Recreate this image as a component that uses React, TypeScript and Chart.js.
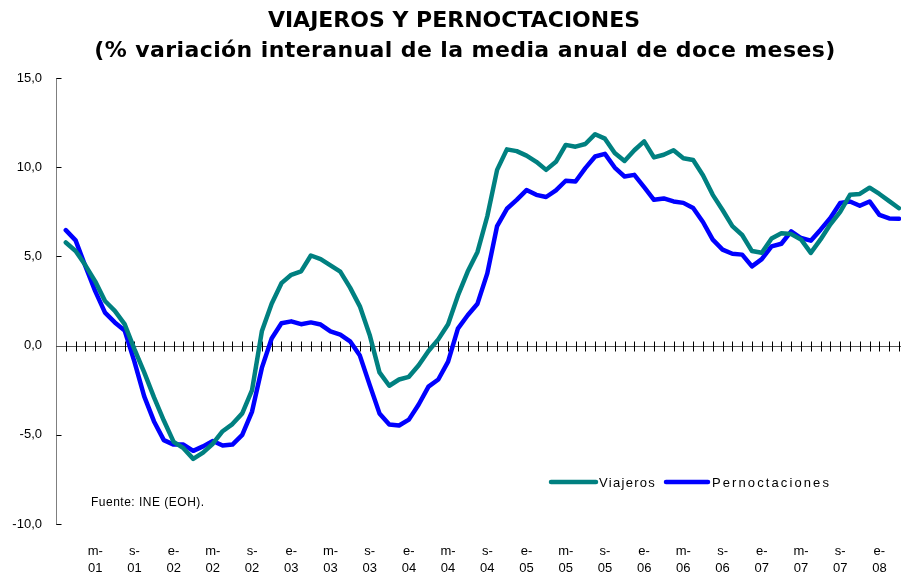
import React, { useEffect, useRef } from "react";
import { Chart, registerables } from "chart.js";

Chart.register(...registerables);

// Month initials (Spanish) and years for the category axis: Jan 2001 .. Mar 2008
const monthInitials = ["e", "f", "m", "a", "m", "j", "j", "a", "s", "o", "n", "d"];
const years = ["01", "02", "03", "04", "05", "06", "07", "08"];
const categories: string[] = [];
years.forEach((yy, yi) => {
  monthInitials.forEach((mm, mi) => {
    if (yi === years.length - 1 && mi > 2) return;
    categories.push(mm + "-" + yy);
  });
});

// % variación interanual de la media anual de doce meses (Feb 2001 .. Mar 2008)
const viajeros: (number | null)[] = [
  null,
  5.78, 5.3, 4.5, 3.6, 2.5, 1.95, 1.2, -0.2, -1.5, -2.9, -4.2,
  -5.4, -5.75, -6.35, -6.0, -5.5, -4.8, -4.4, -3.8, -2.5, 0.8, 2.35, 3.5,
  3.97, 4.16, 5.05, 4.85, 4.5, 4.15, 3.25, 2.2, 0.6, -1.5, -2.25, -1.9,
  -1.75, -1.1, -0.3, 0.35, 1.2, 2.8, 4.15, 5.25, 7.25, 9.85, 11.0, 10.9,
  10.65, 10.3, 9.85, 10.3, 11.25, 11.15, 11.3, 11.85, 11.6, 10.8, 10.35, 10.95,
  11.45, 10.55, 10.7, 10.95, 10.5, 10.4, 9.55, 8.45, 7.6, 6.7, 6.2, 5.3,
  5.2, 6.0, 6.3, 6.25, 5.95, 5.2, 5.95, 6.8, 7.5, 8.45, 8.5, 8.85,
  8.5, 8.1, 7.7,
];

const pernoctaciones: (number | null)[] = [
  null,
  6.47, 5.9, 4.45, 3.05, 1.85, 1.3, 0.85, -0.9, -2.85, -4.25, -5.3,
  -5.55, -5.55, -5.9, -5.65, -5.35, -5.6, -5.55, -5.0, -3.7, -1.25, 0.4, 1.25,
  1.36, 1.2, 1.3, 1.18, 0.8, 0.62, 0.24, -0.56, -2.2, -3.8, -4.42, -4.48,
  -4.15, -3.3, -2.3, -1.9, -0.9, 0.95, 1.7, 2.35, 4.05, 6.7, 7.67, 8.17,
  8.72, 8.45, 8.33, 8.7, 9.24, 9.2, 9.95, 10.6, 10.75, 9.98, 9.48, 9.57,
  8.88, 8.17, 8.25, 8.08, 8.0, 7.71, 6.93, 5.94, 5.38, 5.15, 5.1, 4.44,
  4.85, 5.56, 5.71, 6.4, 6.03, 5.88, 6.5, 7.15, 7.99, 8.08, 7.84, 8.08,
  7.33, 7.13, 7.11,
];

const yTickValues = [-10, -5, 0, 5, 10, 15];
const titleLines = ["VIAJEROS Y PERNOCTACIONES", "(% variación interanual de la media anual de doce meses)"];
const sourceText = "Fuente: INE (EOH).";
const seriesNames = ["Viajeros", "Pernoctaciones"];
const seriesColors = ["#008080", "#0000FF"];

const ARIAL = '"Liberation Sans", Arial, sans-serif';

const decor = {
  id: "decor",
  beforeDatasetsDraw(chart: any) {
    const { ctx, scales } = chart;
    const x = scales.x;
    const y = scales.y;
    const y0 = Math.round(y.getPixelForValue(0)) + 0.5;
    const left = Math.round(x.getPixelForValue(0)) + 0.5;
    ctx.save();
    // y axis line
    ctx.strokeStyle = "#7f7f7f";
    ctx.lineWidth = 1;
    ctx.beginPath();
    ctx.moveTo(left, Math.round(y.getPixelForValue(15)));
    ctx.lineTo(left, Math.round(y.getPixelForValue(-10)) + 1);
    ctx.stroke();
    // y tick marks (inside)
    ctx.strokeStyle = "#000";
    yTickValues.forEach((v) => {
      const py = Math.round(y.getPixelForValue(v)) + 0.5;
      ctx.beginPath();
      ctx.moveTo(left, py);
      ctx.lineTo(left + 5, py);
      ctx.stroke();
    });
    // zero line
    ctx.strokeStyle = "#555";
    ctx.beginPath();
    ctx.moveTo(left, y0);
    ctx.lineTo(chart.width, y0);
    ctx.stroke();
    // crossing tick marks
    ctx.strokeStyle = "#000";
    for (let i = 1; i < categories.length; i++) {
      const px = Math.round(x.getPixelForValue(i)) + 0.5;
      ctx.beginPath();
      ctx.moveTo(px, y0 - 5);
      ctx.lineTo(px, y0 + 5);
      ctx.stroke();
    }
    ctx.restore();
  },
  afterDraw(chart: any) {
    const { ctx } = chart;
    ctx.save();
    ctx.fillStyle = "#000";
    ctx.textBaseline = "middle";
    ctx.textAlign = "center";
    ctx.font = 'bold 22px "DejaVu Sans", Verdana, sans-serif';
    (ctx as any).letterSpacing = "0px";
    ctx.fillText(titleLines[0], 454, 21);
    (ctx as any).letterSpacing = "0.4px";
    ctx.fillText(titleLines[1], 465, 51);

    // source
    ctx.textAlign = "left";
    ctx.font = "12px " + ARIAL;
    (ctx as any).letterSpacing = "0.5px";
    ctx.fillText(sourceText, 91, 503);

    // legend
    ctx.font = "13px " + ARIAL;
    const legendItems = [
      { x0: 551, x1: 596, tx: 599, ls: "1.3px" },
      { x0: 666, x1: 708, tx: 712, ls: "2.1px" },
    ];
    legendItems.forEach((it, k) => {
      ctx.strokeStyle = seriesColors[k];
      ctx.lineWidth = 4.5;
      ctx.lineCap = "round";
      ctx.beginPath();
      ctx.moveTo(it.x0, 482);
      ctx.lineTo(it.x1, 482);
      ctx.stroke();
      (ctx as any).letterSpacing = it.ls;
      ctx.fillText(seriesNames[k], it.tx, 483);
    });
    ctx.restore();
  },
};

export default function App() {
  const ref = useRef<HTMLCanvasElement | null>(null);
  useEffect(() => {
    if (!ref.current) return;
    const chart = new Chart(ref.current, {
      type: "line",
      data: {
        labels: categories,
        datasets: [
          {
            label: seriesNames[0],
            data: viajeros,
            borderColor: seriesColors[0],
            backgroundColor: seriesColors[0],
            borderWidth: 4.5,
            pointRadius: 0,
            tension: 0,
            borderJoinStyle: "round",
            borderCapStyle: "round",
            spanGaps: false,
          },
          {
            label: seriesNames[1],
            data: pernoctaciones,
            borderColor: seriesColors[1],
            backgroundColor: seriesColors[1],
            borderWidth: 4.5,
            pointRadius: 0,
            tension: 0,
            borderJoinStyle: "round",
            borderCapStyle: "round",
            spanGaps: false,
          },
        ],
      },
      options: {
        responsive: false,
        animation: false,
        layout: { padding: { top: 78, right: 2, left: 0, bottom: 0 } },
        plugins: {
          legend: { display: false },
          title: { display: false },
          tooltip: { enabled: false },
        },
        scales: {
          x: {
            type: "category",
            offset: false,
            grid: { display: false, drawTicks: false },
            border: { display: false },
            ticks: {
              autoSkip: false,
              maxRotation: 0,
              minRotation: 0,
              padding: 18,
              color: "#000",
              font: { family: ARIAL, size: 13, lineHeight: 1.38 },
              callback: (_v: any, i: number) => {
                if (i > 0 && i % 4 === 0) {
                  const parts = categories[i].split("-");
                  return [parts[0] + "-", parts[1]];
                }
                return "";
              },
            },
            afterFit: (s: any) => {
              s.height = 51;
              s.paddingLeft = 0;
              s.paddingRight = 0;
            },
          },
          y: {
            min: -10,
            max: 15,
            grid: { display: false, drawTicks: false },
            border: { display: false },
            ticks: {
              stepSize: 5,
              padding: 14,
              color: "#000",
              font: { family: ARIAL, size: 13 },
              callback: (v: any) => Number(v).toFixed(1).replace(".", ","),
            },
            afterFit: (s: any) => {
              s.width = 56;
              s.paddingTop = 0;
              s.paddingBottom = 0;
            },
          },
        },
      },
      plugins: [decor],
    } as any);
    return () => chart.destroy();
  }, []);
  return (
    <div style={{ position: "absolute", left: 0, top: 0, width: 901, height: 575, background: "#fff" }}>
      <canvas ref={ref} width={901} height={575} style={{ width: 901, height: 575, display: "block" }} />
    </div>
  );
}
